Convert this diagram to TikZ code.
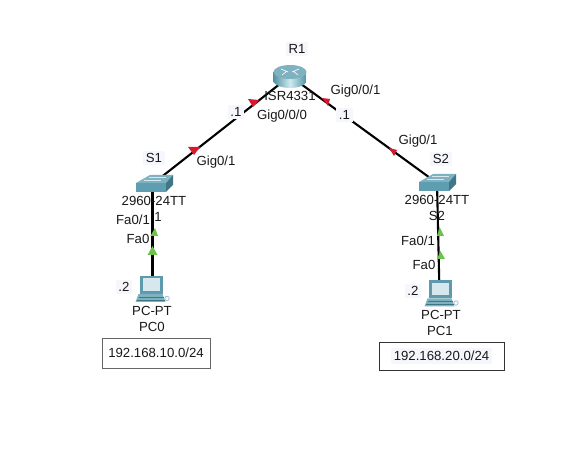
\documentclass[tikz,border=0pt]{standalone}
\usepackage{fontspec}
\setmainfont{Liberation Sans}
\definecolor{tint}{HTML}{F6F7FD}
\definecolor{swtop}{HTML}{7FB2C0}
\definecolor{swfront}{HTML}{5F9DB0}
\definecolor{swside}{HTML}{3F7688}
\definecolor{rtdark}{HTML}{4F93A5}
\definecolor{rtlight}{HTML}{D0EAEE}
\definecolor{pcframe}{HTML}{5D9AAE}
\definecolor{pcscreen}{HTML}{D6E8EE}
\definecolor{linkred}{HTML}{D8182F}
\definecolor{linkgreen}{HTML}{6CC24A}
\tikzset{
  x=1pt,y=-1pt,
  anchorbox/.style={inner sep=0pt,outer sep=0pt,minimum width=30pt,minimum height=20pt},
  link/.style={line width=2.1pt,black},
  lbl/.style={font=\fontsize{13.2}{15}\selectfont,inner sep=0pt,text=black!90},
  tintlbl/.style={lbl,fill=tint,inner sep=2.5pt},
  netbox/.style={draw,inner sep=0pt,font=\fontsize{13.2}{15}\selectfont,text=black!90},
  redtip/.style={fill=linkred},
  greentip/.style={fill=linkgreen},
  pics/switchicon/.style={code={
    \fill[swtop] (-18.5,-1) -- (-4.5,-9) -- (18.5,-9) -- (11.5,-1) -- cycle;
    \fill[swfront] (-18.5,-1) rectangle (11.5,8);
    \fill[swside] (11.5,-1) -- (18.5,-9) -- (18.5,1) -- (11.5,8) -- cycle;
    \draw[white!70!swtop,line width=.5pt] (-11,-3.5) -- (6,-3.5) (-6,-6.5) -- (11,-6.5);
  }},
  pics/routericon/.style={code={
    \shade[left color=rtdark,right color=rtdark,middle color=rtlight] (-16.5,-4) -- (-16.5,6) .. controls (-12,14) and (12,14) .. (16.5,6) -- (16.5,-4) -- cycle;
    \fill[swtop] (0,-4) ellipse[x radius=16.5,y radius=7];
    \draw[white,line width=.6pt] (-9,-7) -- (-2,-4) (9,-7) -- (2,-4) (-8,-1) -- (-3,-5) (8,-1) -- (3,-5);
  }},
  pics/pcicon/.style={code={
    \fill[pcframe] (-11.5,-12) rectangle (11.5,6);
    \fill[pcscreen] (-8.5,-9.5) rectangle (8.5,3);
    \fill[swtop] (-13,6) -- (11,6) -- (14,14) -- (-16,14) -- cycle;
    \draw[swside,line width=.7pt] (-13,9) -- (12,9) (-15,12) -- (13,12);
    \draw[pcframe!60,line width=.8pt] (15.5,10.5) circle[radius=2.2];
  }},
}
\begin{document}
\begin{tikzpicture}
\useasboundingbox (0,0) rectangle (587,457);
\fill[white] (0,0) rectangle (587,457);
% device anchors
\node[anchorbox] (r1) at (290,76) {};
\node[anchorbox] (s1) at (152.5,184) {};
\node[anchorbox] (s2) at (437,183) {};
\node[anchorbox] (pc0) at (152.5,288) {};
\node[anchorbox] (pc1) at (439.5,293) {};
% connectors
\draw[link] (r1.center) -- (s1.center);
\draw[link] (r1.center) -- (s2.center);
\draw[link] (s1.center) -- (pc0.center);
\draw[link] (s2.center) -- (pc1.center);
% icons
\pic at (290,76) {routericon};
\pic at (154.5,184) {switchicon};
\pic at (437.5,183) {switchicon};
\pic at (151.5,288) {pcicon};
\pic at (440.5,292.5) {pcicon};
% link state triangles
\fill[redtip] (188,147) -- (200,147) -- (194,155) -- cycle;
\fill[redtip] (248,99) -- (259,100) -- (253,107) -- cycle;
\fill[redtip] (322,98) -- (330,99) -- (328,106) -- cycle;
\fill[redtip] (389,148) -- (397,150) -- (394,156) -- cycle;
\fill[greentip] (152.5,246) -- (147.5,255) -- (157.5,255) -- cycle;
\fill[greentip] (155,228) -- (150.5,236) -- (158,236) -- cycle;
\fill[greentip] (439.5,227) -- (437,236) -- (444,236) -- cycle;
\fill[greentip] (440.5,251) -- (437,259) -- (445,259) -- cycle;
% labels
\node[tintlbl] (lr1) at (297,49) {R1};
\node[lbl] (tr1) at (290,96) {ISR4331};
\node[lbl] (g1) at (355.5,91) {Gig0/0/1};
\node[lbl] (g0) at (282,116) {Gig0/0/0};
\node[tintlbl] (d1) at (236,112) {.1};
\node[tintlbl] (d2) at (344.5,115) {.1};
\node[tintlbl] (ls1) at (154,158) {S1};
\node[lbl] (gs1) at (216,162) {Gig0/1};
\node[lbl] (ts1) at (154,201) {2960-24TT};
\node[lbl] (fs1) at (133,220) {Fa0/1};
\node[lbl] (ones1) at (158,217) {1};
\node[lbl] (fp0) at (138,239) {Fa0};
\node[tintlbl] (dp0) at (124,287) {.2};
\node[lbl] (tp0) at (152,311) {PC-PT};
\node[lbl] (lp0) at (152,327) {PC0};
\node[netbox,draw=black!60,line width=.9pt,minimum width=108pt,minimum height=30pt] (n1) at (156,353) {192.168.10.0/24};
\node[lbl] (gs2) at (418,141) {Gig0/1};
\node[tintlbl] (ls2) at (441,159) {S2};
\node[lbl] (ts2) at (437,200) {2960-24TT};
\node[lbl] (ns2) at (437,216) {S2};
\node[lbl] (fs2) at (418,241) {Fa0/1};
\node[lbl] (fp1) at (424,265) {Fa0};
\node[tintlbl] (dp1) at (413,291) {.2};
\node[lbl] (tp1) at (441,315) {PC-PT};
\node[lbl] (lp1) at (440,331) {PC1};
\node[netbox,draw=black!80,line width=.7pt,minimum width=125pt,minimum height=28pt] (n2) at (441.5,356) {\colorbox{tint}{192.168.20.0/24}};
\end{tikzpicture}
\end{document}
